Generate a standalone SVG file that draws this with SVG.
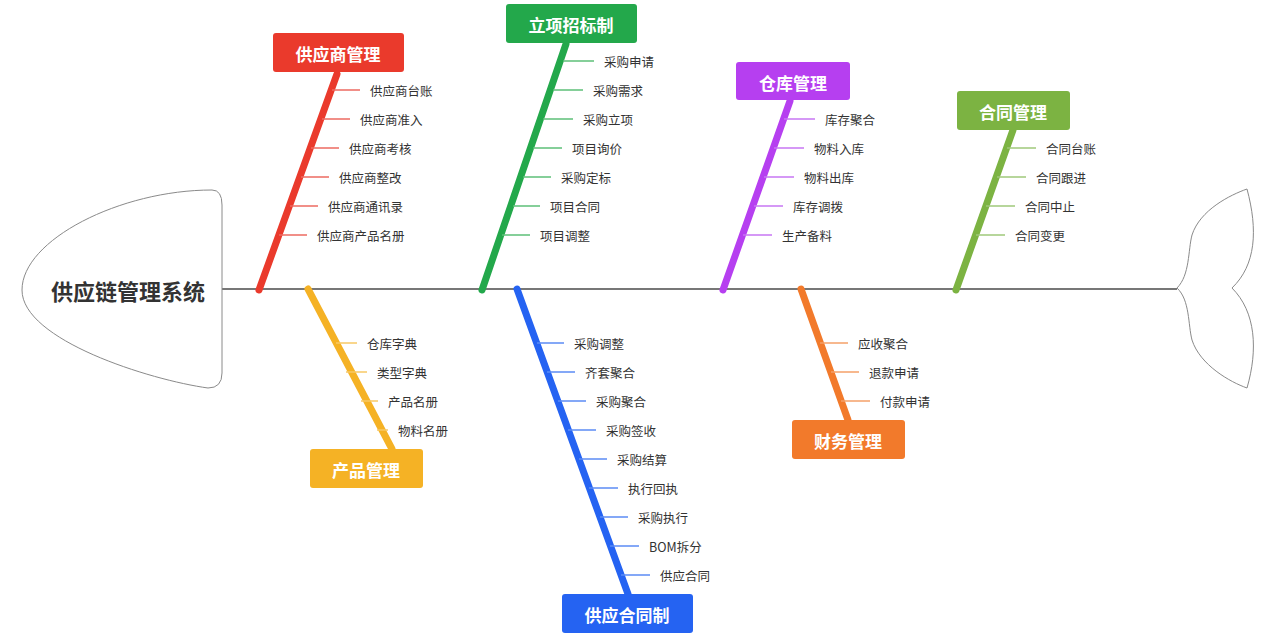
<svg xmlns="http://www.w3.org/2000/svg" width="1279" height="636" viewBox="0 0 1279 636">
<style>
.sub{font-family:"Noto Sans CJK SC","Liberation Sans",sans-serif;font-size:12.5px;fill:#333;dominant-baseline:central}
.lbl{font-family:"Noto Sans CJK SC","Liberation Sans",sans-serif;font-size:17px;font-weight:bold;fill:#fff;text-anchor:middle;dominant-baseline:central}
.br{stroke-width:7;stroke-linecap:round;fill:none}
.sl{stroke-width:1.5;fill:none}
.shape{fill:#fff;stroke:#8a8a8a;stroke-width:1}
</style>
<rect width="1279" height="636" fill="#fff"/>
<g id="connectors">
<line x1="222" y1="289" x2="1177" y2="289" stroke="#777" stroke-width="2"/>
<line class="br" stroke="#ea3a2c" x1="259" y1="290" x2="337" y2="74"/>
<line class="br" stroke="#23a84b" x1="482" y1="290" x2="566" y2="44"/>
<line class="br" stroke="#b63ff0" x1="723" y1="290" x2="790" y2="101"/>
<line class="br" stroke="#7cb342" x1="956" y1="290" x2="1013" y2="130"/>
<line class="br" stroke="#f5b225" x1="308" y1="289" x2="392" y2="449"/>
<line class="br" stroke="#2563f2" x1="517" y1="289" x2="628" y2="594"/>
<line class="br" stroke="#f27a2b" x1="801" y1="289" x2="848" y2="420"/>
<g stroke="#ec6a60" class="sl">
<line x1="332" y1="90" x2="360" y2="90"/><line x1="322" y1="119" x2="350" y2="119"/><line x1="311" y1="148" x2="339" y2="148"/><line x1="301" y1="177" x2="329" y2="177"/><line x1="290" y1="206" x2="318" y2="206"/><line x1="279" y1="235" x2="307" y2="235"/>
</g>
<g stroke="#5cbf77" class="sl">
<line x1="563" y1="61" x2="594" y2="61"/><line x1="553" y1="90" x2="583" y2="90"/><line x1="543" y1="119" x2="573" y2="119"/><line x1="533" y1="148" x2="562" y2="148"/><line x1="523" y1="177" x2="551" y2="177"/><line x1="513" y1="206" x2="540" y2="206"/><line x1="502" y1="235" x2="530" y2="235"/>
</g>
<g stroke="#c776f3" class="sl">
<line x1="784" y1="119" x2="815" y2="119"/><line x1="774" y1="148" x2="804" y2="148"/><line x1="764" y1="177" x2="794" y2="177"/><line x1="754" y1="206" x2="783" y2="206"/><line x1="743" y1="235" x2="772" y2="235"/>
</g>
<g stroke="#9fc97a" class="sl">
<line x1="1007" y1="148" x2="1036" y2="148"/><line x1="997" y1="177" x2="1026" y2="177"/><line x1="986" y1="206" x2="1015" y2="206"/><line x1="976" y1="235" x2="1005" y2="235"/>
</g>
<g stroke="#f7c866" class="sl">
<line x1="336" y1="343" x2="357" y2="343"/><line x1="346" y1="372" x2="367" y2="372"/><line x1="361" y1="401" x2="378" y2="401"/><line x1="377" y1="430" x2="388" y2="430"/>
</g>
<g stroke="#5b8bf5" class="sl">
<line x1="537" y1="343" x2="564" y2="343"/><line x1="547" y1="372" x2="575" y2="372"/><line x1="558" y1="401" x2="586" y2="401"/><line x1="568" y1="430" x2="596" y2="430"/><line x1="579" y1="459" x2="607" y2="459"/><line x1="589" y1="488" x2="618" y2="488"/><line x1="600" y1="517" x2="628" y2="517"/><line x1="610" y1="546" x2="639" y2="546"/><line x1="621" y1="575" x2="650" y2="575"/>
</g>
<g stroke="#f5a068" class="sl">
<line x1="820" y1="343" x2="848" y2="343"/><line x1="831" y1="372" x2="859" y2="372"/><line x1="841" y1="401" x2="870" y2="401"/>
</g>
</g>
<g id="head">
<path class="shape" d="M212,190 Q222,190 222,205 L222,373 Q222,388 208,388 C150,380 22,340 22,290 C22,240 120,190 212,190 Z"/>
<text x="128" y="290" font-family="Noto Sans CJK SC,Liberation Sans,sans-serif" font-size="22" font-weight="bold" fill="#333" text-anchor="middle" dominant-baseline="central">供应链管理系统</text>
</g>
<g id="tail">
<path class="shape" d="M1177,288 C1190,275 1188,250 1192,235 C1200,210 1230,195 1247,189 C1258,230 1256,265 1232,288 C1256,312 1258,350 1247,388 C1230,382 1200,365 1192,340 C1188,325 1190,300 1177,288 Z"/>
</g>
<g id="supplier">
<rect x="273" y="33" width="131" height="39" rx="3" fill="#ea3a2c"/><text class="lbl" x="338" y="53">供应商管理</text>
<text class="sub" x="370" y="90">供应商台账</text><text class="sub" x="360" y="119">供应商准入</text><text class="sub" x="349" y="148">供应商考核</text><text class="sub" x="339" y="177">供应商整改</text><text class="sub" x="328" y="206">供应商通讯录</text><text class="sub" x="317" y="235">供应商产品名册</text>
</g>
<g id="bidding">
<rect x="506" y="4" width="131" height="39" rx="3" fill="#23a84b"/><text class="lbl" x="571" y="24">立项招标制</text>
<text class="sub" x="604" y="61">采购申请</text><text class="sub" x="593" y="90">采购需求</text><text class="sub" x="583" y="119">采购立项</text><text class="sub" x="572" y="148">项目询价</text><text class="sub" x="561" y="177">采购定标</text><text class="sub" x="550" y="206">项目合同</text><text class="sub" x="540" y="235">项目调整</text>
</g>
<g id="warehouse">
<rect x="736" y="62" width="114" height="38" rx="3" fill="#b63ff0"/><text class="lbl" x="793" y="82">仓库管理</text>
<text class="sub" x="825" y="119">库存聚合</text><text class="sub" x="814" y="148">物料入库</text><text class="sub" x="804" y="177">物料出库</text><text class="sub" x="793" y="206">库存调拨</text><text class="sub" x="782" y="235">生产备料</text>
</g>
<g id="contract">
<rect x="957" y="91" width="113" height="39" rx="3" fill="#7cb342"/><text class="lbl" x="1013" y="111">合同管理</text>
<text class="sub" x="1046" y="148">合同台账</text><text class="sub" x="1036" y="177">合同跟进</text><text class="sub" x="1025" y="206">合同中止</text><text class="sub" x="1015" y="235">合同变更</text>
</g>
<g id="product">
<rect x="310" y="449" width="113" height="39" rx="3" fill="#f5b225"/><text class="lbl" x="366" y="469">产品管理</text>
<text class="sub" x="367" y="343">仓库字典</text><text class="sub" x="377" y="372">类型字典</text><text class="sub" x="388" y="401">产品名册</text><text class="sub" x="398" y="430">物料名册</text>
</g>
<g id="supplycontract">
<rect x="562" y="594" width="131" height="39" rx="3" fill="#2563f2"/><text class="lbl" x="627" y="614">供应合同制</text>
<text class="sub" x="574" y="343">采购调整</text><text class="sub" x="585" y="372">齐套聚合</text><text class="sub" x="596" y="401">采购聚合</text><text class="sub" x="606" y="430">采购签收</text><text class="sub" x="617" y="459">采购结算</text><text class="sub" x="628" y="488">执行回执</text><text class="sub" x="638" y="517">采购执行</text><text class="sub" x="649" y="546">BOM拆分</text><text class="sub" x="660" y="575">供应合同</text>
</g>
<g id="finance">
<rect x="792" y="420" width="113" height="39" rx="3" fill="#f27a2b"/><text class="lbl" x="848" y="440">财务管理</text>
<text class="sub" x="858" y="343">应收聚合</text><text class="sub" x="869" y="372">退款申请</text><text class="sub" x="880" y="401">付款申请</text>
</g>
</svg>
